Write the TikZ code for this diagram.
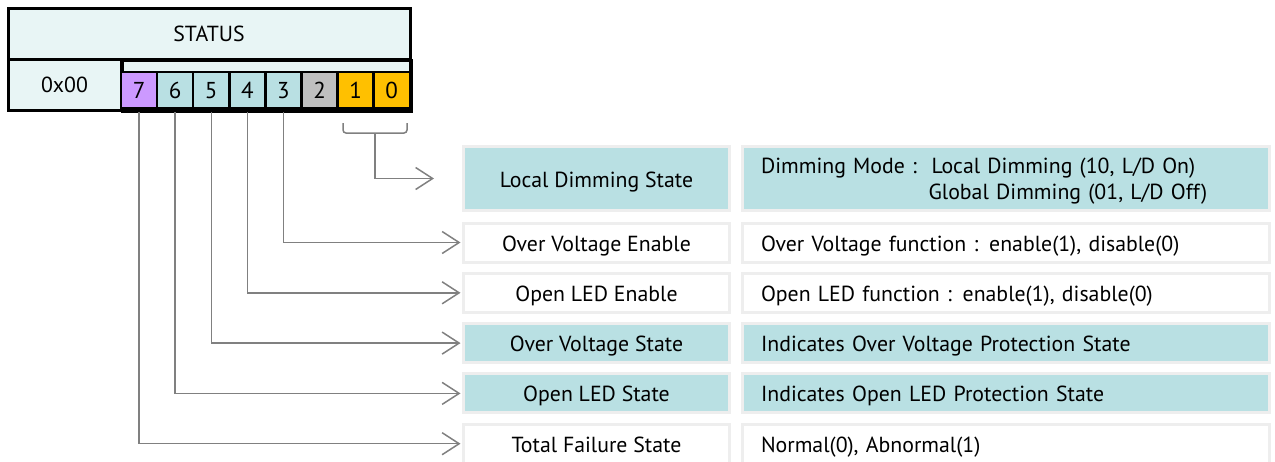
\documentclass[tikz,border=0pt]{standalone}
\usepackage{fontspec}
\setmainfont{PT Sans}
\usetikzlibrary{arrows.meta}
\definecolor{tealfill}{HTML}{B9E0E3}
\definecolor{palefill}{HTML}{E8F5F5}
\definecolor{purpfill}{HTML}{CC99FF}
\definecolor{greyfill}{HTML}{BFBFBF}
\definecolor{amberfill}{HTML}{FFC000}
\definecolor{rimcol}{HTML}{EEEEEE}
\definecolor{wirecol}{HTML}{808080}
\begin{document}
\begin{tikzpicture}[x=1pt,y=-1pt,
  font=\fontsize{21.8}{26}\selectfont,
  headbox/.style={draw=black, line width=3pt, fill=palefill, inner sep=0pt, text height=16pt, text depth=0pt},
  bitbox/.style={draw=black, line width=2.5pt, minimum width=36.1pt, minimum height=36pt, inner sep=0pt, font=\fontsize{23}{26}\selectfont, text height=17pt, text depth=0pt},
  rowbox/.style={draw=rimcol, line width=3pt, minimum width=266pt, minimum height=39pt, inner sep=0pt, text height=17pt, text depth=0pt},
  descbox/.style={draw=rimcol, line width=3pt, minimum height=39pt, text width=490pt, inner xsep=18.5pt, inner ysep=0pt, align=left},
  onel/.style={text height=17pt, text depth=0pt},
  wire/.style={draw=wirecol, line width=1.5pt},
  arr/.style={wire, -{Straight Barb[length=17pt, width=22pt, line width=1.5pt]}}
]
\useasboundingbox (0,0) rectangle (1275,461);

% rows
\node[rowbox, fill=tealfill, minimum height=64pt] (lds) at (596.5,178.5) {Local Dimming State};
\node[descbox, fill=tealfill, minimum height=64pt] (d1) at (1006,178.5) {};
\node[text width=490pt, inner sep=0pt, align=left] (d1text) at ([yshift=-2.5pt]d1.center) {Dimming Mode :\ \ Local Dimming (10, L/D On)\\\phantom{Dimming Mode :\ \ }\hspace{-3pt}Global Dimming (01, L/D Off)};
\node[rowbox, fill=white] (ove) at (596.5,242.5) {Over Voltage Enable};
\node[descbox, onel, fill=white] (d2) at (1006,242.5) {Over Voltage function : enable(1), disable(0)};
\node[rowbox, fill=white] (ole) at (596.5,292.8) {Open LED Enable};
\node[descbox, onel, fill=white] (d3) at (1006,292.8) {Open LED function : enable(1), disable(0)};
\node[rowbox, fill=tealfill] (ovs) at (596.5,343.1) {Over Voltage State};
\node[descbox, onel, fill=tealfill] (d4) at (1006,343.1) {Indicates Over Voltage Protection State};
\node[rowbox, fill=tealfill] (ols) at (596.5,393.4) {Open LED State};
\node[descbox, onel, fill=tealfill] (d5) at (1006,393.4) {Indicates Open LED Protection State};
\node[rowbox, fill=white] (tfs) at (596.5,443.7) {Total Failure State};
\node[descbox, onel, fill=white] (d6) at (1006,443.7) {Normal(0), Abnormal(1)};

% register table
\node[headbox, minimum width=402pt, minimum height=51pt] (status) at (209,33.5) {STATUS};
\node[headbox, minimum width=113pt, minimum height=51pt] (addr) at (64.5,84.5) {0x00};
\node[headbox, minimum width=289pt, minimum height=51pt, anchor=north west] (bitfield) at (121,59) {};
\draw[line width=2.5pt] (121,72) -- (410,72);
\node[bitbox, fill=purpfill] (b7) at (139.05,90) {7};
\node[bitbox, fill=tealfill] (b6) at (175.15,90) {6};
\node[bitbox, fill=tealfill] (b5) at (211.25,90) {5};
\node[bitbox, fill=tealfill] (b4) at (247.35,90) {4};
\node[bitbox, fill=tealfill] (b3) at (283.45,90) {3};
\node[bitbox, fill=greyfill] (b2) at (319.55,90) {2};
\node[bitbox, fill=amberfill] (b1) at (355.65,90) {1};
\node[bitbox, fill=amberfill] (b0) at (391.75,90) {0};
\draw[line width=3pt] (8,8) rectangle (410,110);

% connectors
\draw[arr, shorten >=1.5pt] ([yshift=-3pt]b3.south) |- (ove.west);
\draw[arr, shorten >=1.5pt] ([yshift=-3pt]b4.south) |- (ole.west);
\draw[arr, shorten >=1.5pt] ([yshift=-3pt]b5.south) |- (ovs.west);
\draw[arr, shorten >=1.5pt] ([yshift=-3pt]b6.south) |- (ols.west);
\draw[arr, shorten >=1.5pt] ([yshift=-3pt]b7.south) |- (tfs.west);
\draw[wire, rounded corners=3pt] (343,123) -- (343,133) -- (407,133) -- (407,123);
\coordinate (brk) at (375,133);
\draw[arr, shorten >=28pt] (brk) |- (lds.west);
\end{tikzpicture}
\end{document}
